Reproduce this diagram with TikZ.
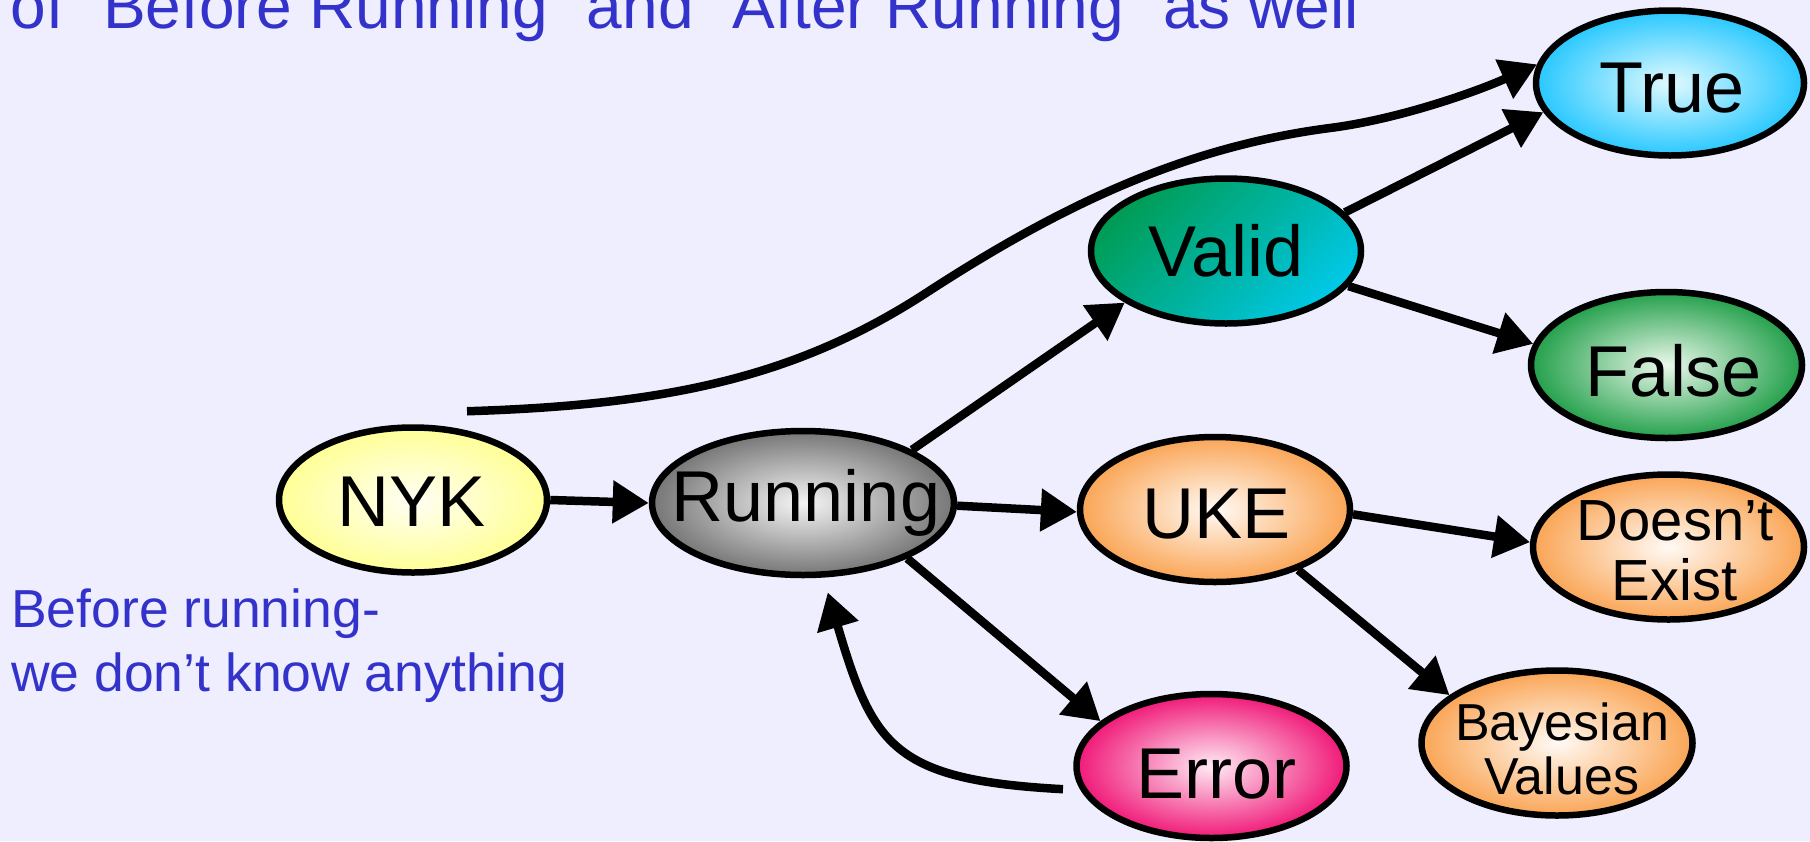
\documentclass[tikz,border=0pt]{standalone}
\usepackage{fontspec}
\setmainfont{Liberation Sans}
\usetikzlibrary{arrows.meta,shapes.geometric}

\definecolor{pagebg}{RGB}{238,238,254}
\definecolor{noteblue}{RGB}{51,51,204}
\definecolor{nykIn}{RGB}{255,255,245}
\definecolor{nykOut}{RGB}{255,255,150}
\definecolor{runIn}{RGB}{245,245,245}
\definecolor{runOut}{RGB}{118,118,118}
\definecolor{validA}{RGB}{0,156,84}
\definecolor{validB}{RGB}{0,200,230}
\definecolor{trueIn}{RGB}{225,250,255}
\definecolor{trueOut}{RGB}{40,200,255}
\definecolor{falseIn}{RGB}{235,248,235}
\definecolor{falseOut}{RGB}{35,160,75}
\definecolor{orangeIn}{RGB}{255,250,245}
\definecolor{orangeOut}{RGB}{250,165,85}
\definecolor{errIn}{RGB}{255,235,245}
\definecolor{errOut}{RGB}{240,25,120}

\begin{document}
\begin{tikzpicture}[x=1pt,y=-1pt,
  state/.style={ellipse, draw=black, line width=6.5pt, inner sep=0pt,
    minimum width=270pt, minimum height=145pt},
  caption/.style={anchor=base, inner sep=0pt, text=black,
    font=\fontsize{72}{72}\selectfont},
  smallcap/.style={caption, font=\fontsize{58}{58}\selectfont},
  tinycap/.style={caption, font=\fontsize{52}{52}\selectfont},
  note/.style={anchor=base west, inner sep=0pt, text=noteblue},
  arr/.style={line width=8.5pt, draw=black, -{Triangle[length=36pt,width=41pt]}}]

\useasboundingbox (0,0) rectangle (1810,841);
\clip (0,0) rectangle (1810,841);
\fill[pagebg] (0,0) rectangle (1810,841);

% headline and side note
\node[note, font=\fontsize{64}{64}\selectfont] (headline) at (10.5,28)
  {of “Before Running” and “After Running” as well};
\node[note, font=\fontsize{53.5}{53.5}\selectfont] (before1) at (11,627.7) {Before running-};
\node[note, font=\fontsize{53.5}{53.5}\selectfont] (before2) at (11,691.7) {we don’t know anything};

% states
\node[state, minimum width=268pt, inner color=nykIn, outer color=nykOut] (nyk) at (413,500) {};
\node[state, minimum width=302pt, minimum height=144pt, inner color=runIn, outer color=runOut] (run) at (803,503) {};
\node[state, top color=validA, bottom color=validB, shading angle=45] (valid) at (1226,251) {};
\node[state, minimum width=268pt, inner color=trueIn, outer color=trueOut] (true) at (1670,83) {};
\node[state, minimum width=271pt, minimum height=146pt, inner color=falseIn, outer color=falseOut] (false) at (1666.5,365) {};
\node[state, inner color=orangeIn, outer color=orangeOut] (uke) at (1215,509.5) {};
\node[state, minimum width=271pt, inner color=orangeIn, outer color=orangeOut] (dne) at (1668.5,547) {};
\node[state, minimum height=144pt, inner color=errIn, outer color=errOut] (err) at (1211.5,766) {};
\node[state, minimum width=271pt, inner color=orangeIn, outer color=orangeOut] (bay) at (1557,743) {};

% state names
\node[caption] (nykT) at (412,526.7) {NYK};
\node[caption] (runT) at (806,521.7) {Running};
\node[caption] (validT) at (1226,276) {Valid};
\node[caption] (trueT) at (1672,112.7) {True};
\node[caption] (falseT) at (1674,396.7) {False};
\node[caption] (ukeT) at (1217,538.3) {UKE};
\node[caption] (errT) at (1216.5,798.3) {Error};
\node[smallcap] (dneT1) at (1675,540.7) {Doesn’t};
\node[smallcap] (dneT2) at (1674.6,600) {Exist};
\node[tinycap] (bayT1) at (1562,740) {Bayesian};
\node[tinycap] (bayT2) at (1561.6,794.3) {Values};

% transitions
\draw[arr] (nyk.east) -- (run.west);
\draw[arr] (run.26) -- (valid.207);
\draw[arr] (run.-1) -- (uke.181);
\draw[arr] (run.-28) -- (err.158);
\draw[arr] ([xshift=-17pt]err.190) .. controls (893,780) and (873,746) ..
  ([xshift=2pt,yshift=-15pt]run.-73);
\draw[arr] (valid.18) -- (true.193);
\draw[arr] (valid.-16) -- (false.171);
\draw[arr] (uke.-2) -- (dne.178);
\draw[arr] (uke.-36) -- (bay.156);
\draw[arr] ([xshift=54pt,yshift=13pt]nyk.north)
  .. controls (667,405) and (796,377.5) .. (926,293)
  .. controls (1056,208.5) and (1180,147.5) .. (1330,128)
  .. controls (1400,119) and (1478,91) .. (true.172);
\end{tikzpicture}
\end{document}
